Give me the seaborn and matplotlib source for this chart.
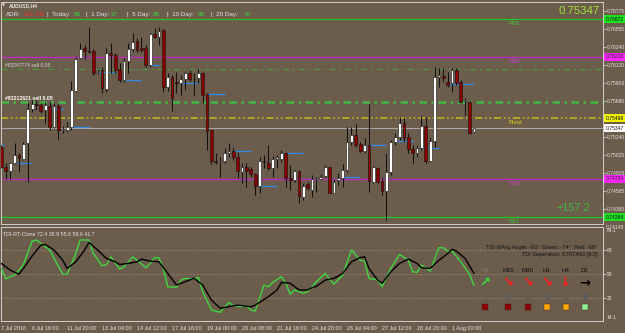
import numpy as np
import pandas as pd
import matplotlib
matplotlib.use("Agg")
import matplotlib.pyplot as plt
import seaborn as sns

# ---------------- data ----------------
opens = [0.75124, 0.74880, 0.74832, 0.74921, 0.75022, 0.74970, 0.75164, 0.75578, 0.75640, 0.75631,
         0.75570, 0.75619, 0.75367, 0.75619, 0.75327, 0.75327, 0.75359, 0.75805, 0.76199, 0.76320,
         0.76292, 0.76288, 0.76036, 0.76057, 0.75825, 0.76259, 0.76239, 0.76065, 0.75935, 0.76170,
         0.76308, 0.76405, 0.76320, 0.76320, 0.76117, 0.76495, 0.76462, 0.76543, 0.75854, 0.75967,
         0.75911, 0.75894, 0.75943, 0.76016, 0.75943, 0.75955, 0.76016, 0.75765, 0.75327, 0.74954,
         0.74942, 0.74945, 0.75051, 0.75071, 0.74994, 0.74819, 0.74872, 0.74848, 0.74791, 0.74649,
         0.74945, 0.74929, 0.74860, 0.74970, 0.74970, 0.75051, 0.74738, 0.74718, 0.74832, 0.74515,
         0.74665, 0.74596, 0.74726, 0.74726, 0.74767, 0.74872, 0.74564, 0.74718, 0.74738, 0.74840,
         0.75176, 0.75266, 0.75152, 0.75075, 0.75144, 0.74698, 0.74860, 0.74710, 0.74588, 0.74819,
         0.75185, 0.75237, 0.75416, 0.75245, 0.75095, 0.75043, 0.75103, 0.75375, 0.74954, 0.75196,
         0.75975, 0.75984, 0.75915, 0.75894, 0.76057, 0.75915, 0.75679, 0.75671, 0.75298]
highs = [0.75144, 0.74921, 0.74942, 0.75164, 0.75043, 0.75185, 0.75651, 0.75692, 0.75690, 0.75651,
         0.75671, 0.75671, 0.75651, 0.75643, 0.75375, 0.75428, 0.75927, 0.76219, 0.76381, 0.76361,
         0.76576, 0.76308, 0.76065, 0.76097, 0.76320, 0.76381, 0.76259, 0.76138, 0.76199, 0.76381,
         0.76503, 0.76442, 0.76462, 0.76361, 0.76503, 0.76564, 0.76584, 0.76551, 0.76016, 0.75996,
         0.76036, 0.75996, 0.76036, 0.76057, 0.76016, 0.76065, 0.76036, 0.75773, 0.75327, 0.75043,
         0.75002, 0.75103, 0.75164, 0.75124, 0.75063, 0.74921, 0.74921, 0.74880, 0.74799, 0.74994,
         0.75022, 0.75144, 0.75010, 0.75022, 0.75083, 0.75063, 0.74901, 0.74840, 0.74840, 0.74678,
         0.74698, 0.74779, 0.74759, 0.74791, 0.74901, 0.74880, 0.74726, 0.74799, 0.74913, 0.75367,
         0.75367, 0.75400, 0.75185, 0.75225, 0.75643, 0.74888, 0.74880, 0.74759, 0.75043, 0.75204,
         0.75286, 0.75489, 0.75489, 0.75286, 0.75144, 0.75144, 0.75497, 0.75489, 0.75225, 0.76097,
         0.76077, 0.76077, 0.76036, 0.76077, 0.76077, 0.75935, 0.75712, 0.75679, 0.75367]
lows = [0.74860, 0.74726, 0.74726, 0.74913, 0.74819, 0.74962, 0.74698, 0.75550, 0.75570, 0.75529,
        0.75416, 0.75327, 0.75347, 0.75217, 0.75286, 0.75306, 0.75327, 0.75793, 0.76186, 0.76186,
        0.76268, 0.75996, 0.76008, 0.75781, 0.75793, 0.76016, 0.76016, 0.75915, 0.75915, 0.76016,
        0.76292, 0.76280, 0.76280, 0.76097, 0.76097, 0.76442, 0.76361, 0.75793, 0.75805, 0.75562,
        0.75773, 0.75752, 0.75813, 0.75927, 0.75752, 0.75894, 0.75651, 0.75083, 0.74913, 0.74913,
        0.74759, 0.74921, 0.75002, 0.74962, 0.74738, 0.74678, 0.74637, 0.74759, 0.74536, 0.74556,
        0.74860, 0.74840, 0.74759, 0.74860, 0.74942, 0.74637, 0.74596, 0.74698, 0.74434, 0.74475,
        0.74596, 0.74515, 0.74576, 0.74718, 0.74759, 0.74556, 0.74556, 0.74657, 0.74637, 0.74819,
        0.75144, 0.75124, 0.75063, 0.75051, 0.74576, 0.74678, 0.74678, 0.74536, 0.74232, 0.74779,
        0.75144, 0.75204, 0.75185, 0.75043, 0.74921, 0.74994, 0.75083, 0.74921, 0.74942, 0.75124,
        0.75854, 0.75915, 0.75854, 0.75793, 0.75874, 0.75651, 0.75509, 0.75278, 0.75286]
closes = [0.74880, 0.74832, 0.74929, 0.75018, 0.74982, 0.75156, 0.75578, 0.75643, 0.75625, 0.75562,
          0.75627, 0.75367, 0.75619, 0.75327, 0.75335, 0.75367, 0.75813, 0.76186, 0.76308, 0.76292,
          0.76280, 0.76016, 0.76044, 0.75834, 0.76268, 0.76235, 0.76057, 0.75935, 0.76170, 0.76308,
          0.76393, 0.76300, 0.76300, 0.76117, 0.76495, 0.76462, 0.76535, 0.75854, 0.75975, 0.75720,
          0.75898, 0.75943, 0.76016, 0.75943, 0.75951, 0.76024, 0.75756, 0.75318, 0.74954, 0.74942,
          0.74954, 0.75051, 0.75075, 0.74994, 0.74832, 0.74872, 0.74832, 0.74791, 0.74649, 0.74954,
          0.74933, 0.74860, 0.74970, 0.75002, 0.75043, 0.74738, 0.74718, 0.74832, 0.74523, 0.74649,
          0.74617, 0.74726, 0.74738, 0.74759, 0.74872, 0.74564, 0.74698, 0.74738, 0.74840, 0.75185,
          0.75266, 0.75144, 0.75075, 0.75140, 0.74710, 0.74872, 0.74698, 0.74588, 0.74819, 0.75185,
          0.75237, 0.75408, 0.75225, 0.75095, 0.75043, 0.75103, 0.75375, 0.74954, 0.75196, 0.75975,
          0.75992, 0.75963, 0.75874, 0.76057, 0.75894, 0.75671, 0.75687, 0.75286, 0.75347]

# pivot levels
level_names = ["R61", "R38", "Pivot", "S38", "S61"]
level_values = [0.76672, 0.76218, 0.75468, 0.74734, 0.74264]
order_values = [0.76072, 0.75667]
order_labels = ["#83247774 sell 0.05", "#83212621 sell 0.05"]
current_price = 0.75347

# short blue segments (start bar, end bar, price)
seg_start = [-0.5, 3.5, 10, 16, 22, 28, 34, 41, 47, 53, 59, 65, 78, 84, 90, 96, 102]
seg_end = [0.5, 7, 14, 20, 26, 32, 36, 45, 51, 57, 63, 69, 82, 88, 94, 100, 108]
seg_price = [0.75140, 0.74921, 0.75578, 0.75359, 0.76028, 0.75931, 0.76117, 0.75894, 0.75765,
             0.75067, 0.74645, 0.75051, 0.74750, 0.75140, 0.75188, 0.75108, 0.75886]

price_ticks = [0.76775, 0.76555, 0.76340, 0.76120, 0.75900, 0.75680, 0.75240, 0.75025,
               0.74805, 0.74585, 0.74365]

# TDI lines (bar, value)
green_bars = [0, 1, 3, 4, 5, 7, 8, 9, 11, 12, 14, 15, 17, 18, 20, 21, 23, 24, 25, 27, 28, 30, 31, 33,
              34, 35, 36, 37, 38, 40, 41, 42, 44, 45, 46, 48, 50, 52, 53, 55, 56, 57, 58, 60, 61, 62,
              64, 65, 66, 67, 69, 70, 71, 72, 74, 76, 78, 80, 82, 83, 84, 86, 87, 89, 91, 93, 94, 95,
              96, 97, 98, 100, 101, 102, 103, 105, 107, 108]
green_vals = [54.1, 46.6, 49.6, 53.1, 57.1, 74.8, 75.8, 73.3, 68.3, 62.1, 50.1, 50.1, 65.6, 75.8, 75.7,
              65.6, 56.4, 57.4, 63.1, 53.9, 55.6, 63.1, 60.6, 54.9, 58.2, 62.6, 62.4, 54.4, 40.7, 40.3,
              45.7, 47.0, 46.3, 47.8, 37.0, 23.2, 21.5, 29.0, 26.4, 25.7, 26.4, 23.2, 22.4, 42.0, 40.7,
              44.0, 48.2, 43.3, 35.1, 38.3, 35.8, 37.0, 40.7, 44.5, 50.7, 42.5, 49.5, 68.3, 60.6, 59.9,
              47.0, 45.7, 40.7, 54.4, 64.9, 60.6, 51.9, 51.5, 56.9, 54.9, 52.4, 70.0, 70.0, 67.4, 67.4,
              59.4, 50.0, 41.7]
black_bars = [0, 2, 4, 5, 7, 9, 10, 12, 14, 15, 17, 19, 20, 22, 24, 26, 27, 29, 31, 32, 34, 36, 38, 40,
              42, 44, 46, 48, 50, 52, 54, 57, 58, 61, 63, 64, 66, 68, 70, 71, 72, 74, 76, 78, 80, 82,
              83, 84, 86, 87, 89, 91, 93, 95, 96, 98, 100, 102, 103, 104, 106, 108]
black_vals = [58.1, 53.1, 50.1, 54.4, 63.8, 71.9, 72.4, 68.2, 60.6, 54.4, 59.4, 68.2, 73.9, 68.2, 61.9,
              59.4, 57.4, 58.2, 59.4, 61.4, 59.9, 59.4, 50.7, 42.0, 44.5, 47.0, 42.0, 30.7, 24.5, 25.7,
              26.9, 25.7, 26.9, 33.2, 38.3, 44.0, 43.3, 38.3, 38.3, 40.0, 41.1, 45.7, 47.0, 50.7, 59.4,
              62.6, 63.1, 54.4, 45.7, 43.3, 51.9, 58.2, 61.4, 58.2, 54.9, 54.4, 60.6, 65.6, 68.8, 67.4,
              61.9, 50.7]

x_tick_bars = [0, 7, 15, 23, 31, 39, 47, 55, 63, 71, 79, 87, 95, 103]
x_tick_labels = ["7 Jul 2016", "8 Jul 16:00", "11 Jul 20:00", "13 Jul 04:00", "14 Jul 12:00",
                 "17 Jul 16:00", "19 Jul 00:00", "20 Jul 08:00", "21 Jul 16:00", "24 Jul 20:00",
                 "26 Jul 04:00", "27 Jul 12:00", "28 Jul 20:00", "1 Aug 00:00"]

adr_parts = [("ADR:", "w"), ("131.1%", "r"), ("|  Today:", "w"), ("86", "g"), ("|  1 Day:", "w"),
             ("37", "g"), ("|  5 Day:", "w"), ("85", "g"), ("|  10 Day:", "w"), ("65", "g"),
             ("|  20 Day:", "w"), ("67", "g")]
tf_names = ["M5", "M15", "M30", "H1", "H4", "D1"]
tf_arrows = ["↗", "↘", "↘", "↘", "↓", "→"]
tf_arrow_colors = ["#33E033", "#FF1E1E", "#FF1E1E", "#FF1E1E", "#FF1E1E", "#000000"]
tf_square_colors = ["#8B0000", "#8B0000", "#8B0000", "#FFA500", "#FFA500", "#90EE90"]

# ---------------- style ----------------
sns.set_style("dark")
plt.rcParams['font.family'] = ['Liberation Sans', 'DejaVu Sans']

W, H = 625, 333
BG = "#6B5C4C"
FG = "#E6E6E6"
fig = plt.figure(figsize=(W / 100, H / 100), dpi=100)
fig.patch.set_facecolor(BG)


def fx(x):
    return x / W


def fy(y):
    return 1 - y / H


ax = fig.add_axes([fx(1), fy(224), fx(603) - fx(1), fy(2) - fy(224)])
ax2 = fig.add_axes([fx(1), fy(321), fx(603) - fx(1), fy(227) - fy(321)])
for a in (ax, ax2):
    a.set_facecolor(BG)
    a.set_xlim(-0.11, 137.5)
    a.grid(False)
    for s in a.spines.values():
        s.set_color("#CFCFCF")
        s.set_linewidth(0.7)
ax.set_ylim(0.74182, 0.76884)
ax2.set_ylim(15.0, 85.5)

# ---------------- main candles ----------------
df = pd.DataFrame({"open": opens, "high": highs, "low": lows, "close": closes})
df["bar"] = np.arange(len(df))
up = df["close"] >= df["open"]
body_bot = np.minimum(df["open"], df["close"])
body_h = np.maximum((df["close"] - df["open"]).abs(), 0.00002)

# levels
lvl_colors = ["#22C822", "#C428C4", "#B8AC22", "#C428C4", "#22C822"]
ax.axhline(level_values[0], color=lvl_colors[0], lw=0.9, zorder=1)
ax.axhline(level_values[1], color=lvl_colors[1], lw=0.9, zorder=1)
ax.axhline(level_values[2], color=lvl_colors[2], lw=1.3, ls=(0, (4, 1.5, 1, 1.5, 1, 1.5)), zorder=1)
ax.axhline(level_values[3], color=lvl_colors[3], lw=0.9, zorder=1)
ax.axhline(level_values[4], color=lvl_colors[4], lw=0.9, zorder=1)
ax.axhline(order_values[0], color="#4C9A3C", lw=0.9, ls=(0, (5, 3, 1.5, 3)), zorder=1)
ax.axhline(order_values[1], color="#44B844", lw=1.8, ls=(0, (3, 1.8, 1, 1.8)), zorder=1)
ax.axhline(current_price, color="#A8A8A8", lw=0.8, zorder=1)

ax.hlines(seg_price, seg_start, seg_end, color="#2E8CEB", lw=0.9, zorder=2)

ax.vlines(df["bar"], df["low"], df["high"], color="#111111", lw=0.75, zorder=3)
ax.bar(df["bar"][up], body_h[up], bottom=body_bot[up], width=0.64, color="white",
       edgecolor="#111111", linewidth=0.4, zorder=4)
ax.bar(df["bar"][~up], body_h[~up], bottom=body_bot[~up], width=0.64, color="#8E0000",
       edgecolor="#111111", linewidth=0.4, zorder=4)

ax.yaxis.tick_right()
ax.set_yticks(price_ticks)
ax.set_yticklabels([f"{v:.5f}" for v in price_ticks])
ax.tick_params(axis="y", labelsize=3.6, colors=FG, length=2, pad=1, width=0.5)
ax.tick_params(axis="x", bottom=False, labelbottom=False)
ax.set_xlabel("")
ax.set_ylabel("")

ytr = ax.get_yaxis_transform()
ax.text(1.005, 0.74145, "0.74145", transform=ytr, fontsize=3.6, color=FG, va="center", ha="left",
        clip_on=False)
box_specs = [(level_values[0], "#1FE01F", "#101010"), (level_values[1], "#FF28FF", "#202020"),
             (level_values[2], "#F0F000", "#101010"), (current_price, "#FFFFFF", "#101010"),
             (level_values[3], "#FF28FF", "#202020"), (level_values[4], "#1FE01F", "#101010")]
for val, fc, tc in box_specs:
    ax.text(1.004, val, f"{val:.5f}", transform=ytr, fontsize=3.6, color=tc, va="center", ha="left",
            bbox=dict(boxstyle="square,pad=0.3", fc=fc, ec="none"), clip_on=False, zorder=10)

# level name labels
lbl_colors = ["#3CCB3C", "#D43CD4", "#E8E000", "#D43CD4", "#3CCB3C"]
for name, val, c in zip(level_names, level_values, lbl_colors):
    ax.annotate(name, (116.0, val), xytext=(0, -3.2), textcoords="offset points", fontsize=4.4,
                color=c, ha="left", va="center", annotation_clip=False)

# order labels
ax.annotate(order_labels[0], (0.8, order_values[0]), xytext=(0, 2.5), textcoords="offset points",
            fontsize=3.6, color="#D6D6D6", ha="left", va="center")
ax.annotate(order_labels[1], (0.8, order_values[1]), xytext=(0, 2.5), textcoords="offset points",
            fontsize=3.7, color="#FFFFFF", ha="left", va="center", fontweight="bold")

# ---------------- TDI panel ----------------
for lv in (68, 50, 32):
    ax2.axhline(lv, color="#9E9282", lw=0.6, ls=(0, (1.5, 2)), zorder=1)
sns.lineplot(x=green_bars, y=green_vals, ax=ax2, color="#3ED83E", linewidth=1.0, zorder=3)
sns.lineplot(x=black_bars, y=black_vals, ax=ax2, color="#000000", linewidth=1.0, zorder=4)
ax2.set_xlabel("")
ax2.set_ylabel("")
ax2.yaxis.tick_right()
ax2.set_yticks([68, 50, 32])
ax2.set_yticklabels(["68", "50", "32"])
ax2.tick_params(axis="y", labelsize=3.6, colors=FG, length=2, pad=1, width=0.5)
ax2.set_xticks(x_tick_bars)
ax2.set_xticklabels(x_tick_labels, ha="left")
ax2.tick_params(axis="x", labelsize=3.9, colors=FG, length=2.5, pad=1.2, width=0.5)
ytr2 = ax2.get_yaxis_transform()
ax2.text(1.006, 84.6, "84.1", transform=ytr2, fontsize=3.6, color=FG, va="top", ha="left", clip_on=False)
ax2.text(1.006, 15.5, "14.1", transform=ytr2, fontsize=3.6, color=FG, va="bottom", ha="left", clip_on=False)

# ---------------- overlay texts ----------------
ov = fig.add_axes([0, 0, 1, 1])
ov.set_xlim(0, W)
ov.set_ylim(H, 0)
ov.axis("off")
ov.patch.set_alpha(0)

ov.text(2, 5.5, "▼", fontsize=2.8, color=FG, ha="left", va="center", family=["DejaVu Sans"])
ov.text(9, 5.5, "AUDUSD,H4", fontsize=3.6, color=FG, ha="left", va="center", fontweight="bold")
adr_x = [6, 23, 47, 74, 86, 111, 127, 153, 167, 198, 211, 245]
cmap = {"w": FG, "r": "#FF2A2A", "g": "#33DD33"}
for (txt, c), x in zip(adr_parts, adr_x):
    ov.text(x, 14.5, txt, fontsize=4.5, color=cmap[c], ha="left", va="center")

ov.text(600, 10.5, "0.75347", fontsize=8.2, color="#A2E23A", ha="right", va="center")
ov.text(590, 208, "+157.2", fontsize=7.8, color="#3EBE3E", ha="right", va="center")

ov.text(3, 234, "TDI-RT-Clone 72.4 38.9 55.6 59.6 41.7", fontsize=3.8, color=FG, ha="left", va="center")
ov.text(597, 247.5, "TDI WAvg Angle: -63°  Green: -74°  Red: -68°", fontsize=4.0, color="#151515",
        ha="right", va="center")
ov.text(597, 254.5, "TDI Seperation: STRONG [9.0]", fontsize=4.0, color="#151515", ha="right", va="center")

tf_x = [485, 508, 527.5, 546.5, 565.5, 584.5]
for i, (nm, ar, ac, sc, x) in enumerate(zip(tf_names, tf_arrows, tf_arrow_colors, tf_square_colors, tf_x)):
    ov.text(x, 270, nm, fontsize=4.4, color="#857563" if i == 0 else "#101010", ha="center", va="center")
    ov.text(x, 282.5, ar, fontsize=9.5, color=ac, ha="center", va="center", fontweight="bold",
            family=["DejaVu Sans"])
    ov.plot([x], [307], marker="s", ms=3.8, color=sc, mec="#3A2A20", mew=0.3, ls="none")
    if i == 0:
        ov.plot([x], [295.5], marker="o", ms=1.0, color="#5A5A5A", ls="none")
    elif i == 5:
        ov.plot([x], [295.5], marker="o", ms=3.3, color="#5A5A5A", ls="none")
    else:
        ov.plot([x], [295.5], marker="o", ms=3.3, mfc="none", mec="#5A5A5A", mew=0.9, ls="none")

fig.savefig("out.png", dpi=100, facecolor=BG)
